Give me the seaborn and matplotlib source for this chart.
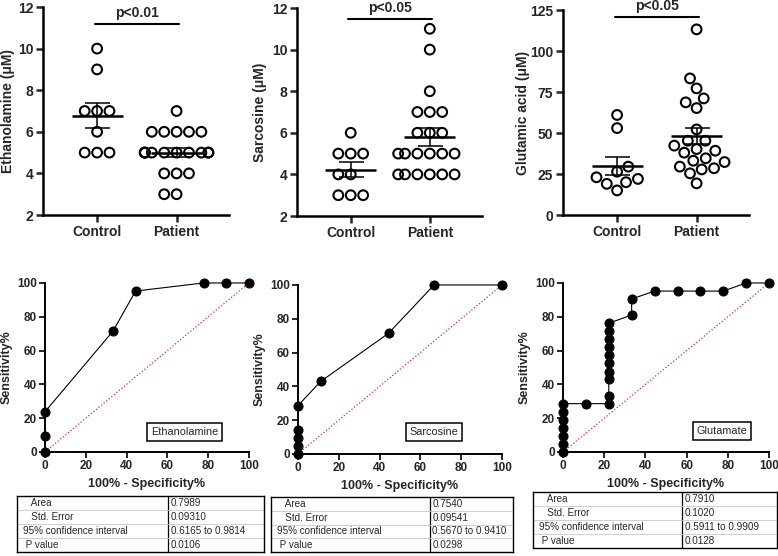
# import libraries
import numpy as np
import pandas as pd
import matplotlib
matplotlib.use('Agg')
import matplotlib.pyplot as plt
import seaborn as sns

# group names on the dot plots
groups = ['Control', 'Patient']

# ethanolamine levels (uM)
eth_control = [10, 9, 7, 7, 7, 6, 5, 5, 5]
eth_patient = [7, 6, 6, 6, 6, 6, 5, 5, 5, 5, 5, 5, 5, 5, 5, 5, 4, 4, 4, 3, 3]

# sarcosine levels (uM)
sar_control = [6, 5, 5, 5, 4, 4, 3, 3, 3]
sar_patient = [11, 10, 8, 7, 7, 7, 6, 6, 6, 5, 5, 5, 5, 5, 5, 4, 4, 4, 4, 4, 4]

# glutamic acid levels (uM)
glu_control = [61, 53, 29.5, 26.4, 23, 22, 20, 19, 15]
glu_patient = [113.2, 83.3, 77.2, 71.1, 68.7, 65.2, 52.2, 45.3, 45.3, 42.3, 40.2,
               39.2, 38.0, 34.6, 33.1, 32.3, 29.5, 28.5, 27.8, 25.4, 19.3]

# significance labels
p_labels = ['p<0.01', 'p<0.05', 'p<0.05']

# roc curves: 100% - specificity% and sensitivity%
eth_fpr = [0, 0, 0, 33.3, 44.4, 77.8, 88.9, 100]
eth_tpr = [0, 9.5, 23.8, 71.4, 95.2, 100, 100, 100]

sar_fpr = [0, 0, 0, 0, 0, 11.1, 44.4, 66.7, 100]
sar_tpr = [0, 4.8, 9.5, 14.3, 28.6, 42.9, 71.4, 100, 100]

glu_fpr = [0, 0, 0, 0, 0, 0, 0, 11.1, 22.2, 22.2, 22.2, 22.2, 22.2, 22.2, 22.2,
           22.2, 22.2, 22.2, 33.3, 33.3, 44.4, 55.6, 66.7, 77.8, 88.9, 100]
glu_tpr = [0, 4.8, 9.5, 14.3, 19.0, 23.8, 28.6, 28.6, 28.6, 33.3, 42.9, 47.6, 52.4,
           57.1, 61.9, 66.7, 71.4, 76.2, 81.0, 90.5, 95.2, 95.2, 95.2, 95.2, 100, 100]

roc_names = ['Ethanolamine', 'Sarcosine', 'Glutamate']

# roc summary tables
table_rows = ['   Area', '   Std. Error', '95% confidence interval', ' P value']
eth_table = ['0.7989', '0.09310', '0.6165 to 0.9814', '0.0106']
sar_table = ['0.7540', '0.09541', '0.5670 to 0.9410', '0.0298']
glu_table = ['0.7910', '0.1020', '0.5911 to 0.9909', '0.0128']

# style
sns.set_style("ticks")
plt.rcParams['font.family'] = ['Liberation Sans', 'DejaVu Sans']
plt.rcParams['axes.edgecolor'] = 'black'

fig = plt.figure(figsize=(7.78, 5.56), dpi=100)

# ---------- dot plots ----------
dot_sets = [(eth_control, eth_patient, 'Ethanolamine (μM)', (2, 12), np.arange(2, 13, 2), 11.18),
            (sar_control, sar_patient, 'Sarcosine (μM)', (2, 12), np.arange(2, 13, 2), 11.47),
            (glu_control, glu_patient, 'Glutamic acid (μM)', (0, 125), np.arange(0, 126, 25), 120.7)]
dot_pos = [[0.0553, 0.6133, 0.2391, 0.3741],
           [0.3817, 0.6115, 0.2378, 0.3741],
           [0.7237, 0.6133, 0.2391, 0.3687]]
label_x = [-0.15, -0.16, -0.175]

for k, (ctrl, pat, ylab, ylim, yticks, bar_y) in enumerate(dot_sets):
    ax = fig.add_axes(dot_pos[k])
    df = pd.DataFrame({'group': [groups[0]] * len(ctrl) + [groups[1]] * len(pat),
                       'value': ctrl + pat})
    sns.swarmplot(data=df, x='group', y='value', order=groups, ax=ax,
                  size=7, color='black', warn_thresh=1)
    for coll in ax.collections:
        coll.set_facecolor('none')
        coll.set_edgecolor('black')
        coll.set_linewidth(1.5)

    # mean with sem
    for i, vals in enumerate([ctrl, pat]):
        vals = np.array(vals, dtype=float)
        m = vals.mean()
        se = vals.std(ddof=1) / np.sqrt(len(vals))
        ax.hlines(m, i - 0.32, i + 0.32, color='black', lw=1.8, zorder=5)
        ax.errorbar(i, m, yerr=se, fmt='none', ecolor='black', elinewidth=1.1,
                    capsize=9, capthick=1.1, zorder=5)

    # significance bar
    ax.plot([-0.03, 1.03], [bar_y, bar_y], color='black', lw=1.5, clip_on=False)
    ax.annotate(p_labels[k], xy=(0.5, bar_y), xytext=(0, 3), textcoords='offset points',
                ha='center', va='bottom', fontsize=10, fontweight='bold')

    ax.set_xlim(-0.68, 1.66)
    ax.set_ylim(*ylim)
    ax.set_yticks(yticks)
    ax.set_xlabel('')
    ax.set_ylabel(ylab, fontsize=10, fontweight='bold')
    ax.yaxis.set_label_coords(label_x[k], 0.5)
    sns.despine(ax=ax)
    for s in ['left', 'bottom']:
        ax.spines[s].set_linewidth(1.8)
    ax.tick_params(length=5, width=1.8, labelsize=10, pad=2)
    for t in ax.get_xticklabels() + ax.get_yticklabels():
        t.set_fontweight('bold')

# ---------- roc curves ----------
roc_sets = [(eth_fpr, eth_tpr), (sar_fpr, sar_tpr), (glu_fpr, glu_tpr)]
roc_pos = [[0.0578, 0.1871, 0.2622, 0.3040],
           [0.3830, 0.1835, 0.2622, 0.3040],
           [0.7237, 0.1871, 0.2648, 0.3040]]
box_xy = [(68.6, 11.8), (66.7, 13.0), (77.0, 12.4)]

for k, (fpr, tpr) in enumerate(roc_sets):
    ax = fig.add_axes(roc_pos[k])
    ax.plot([0, 100], [0, 100], ls=':', color='#e8283a', lw=0.9)
    sns.lineplot(x=fpr, y=tpr, sort=False, estimator=None, ax=ax, color='black',
                 lw=0.8, marker='o', markersize=6.5, markeredgecolor='black')
    for ln in ax.lines:
        ln.set_clip_on(False)
    ax.text(box_xy[k][0], box_xy[k][1], roc_names[k], ha='center', va='center', fontsize=7.8,
            bbox=dict(boxstyle='square,pad=0.35', fc='white', ec='black', lw=1.1))
    ax.set_xlim(0, 100)
    ax.set_ylim(0, 100)
    ax.set_xticks(np.arange(0, 101, 20))
    ax.set_yticks(np.arange(0, 101, 20))
    ax.set_xlabel('100% - Specificity%', fontsize=9, fontweight='bold', labelpad=4)
    ax.set_ylabel('Sensitivity%', fontsize=9, fontweight='bold', labelpad=3)
    sns.despine(ax=ax)
    for s in ['left', 'bottom']:
        ax.spines[s].set_linewidth(1.4)
    ax.tick_params(length=4, width=1.4, labelsize=8.5, pad=2)
    for t in ax.get_xticklabels() + ax.get_yticklabels():
        t.set_fontweight('bold')

# ---------- tables ----------
tab_sets = [eth_table, sar_table, glu_table]
tab_pos = [[0.0219, 0.0072, 0.3175, 0.1007],
           [0.3483, 0.0072, 0.3111, 0.0989],
           [0.6851, 0.0144, 0.3136, 0.1007]]
tab_split = [0.61, 0.655, 0.61]

for k, vals in enumerate(tab_sets):
    ax = fig.add_axes(tab_pos[k])
    ax.set_xlim(0, 1)
    ax.set_ylim(len(table_rows), 0)
    ax.set_xticks([])
    ax.set_yticks([])
    for s in ax.spines.values():
        s.set_visible(True)
        s.set_linewidth(1.0)
        s.set_color('black')
    ax.axvline(tab_split[k], color='black', lw=0.9)
    ax.hlines(np.arange(1, len(table_rows)), 0, 1, color='#c8c8c8', lw=0.6)
    for r, (lab, v) in enumerate(zip(table_rows, vals)):
        ax.text(0.025, r + 0.5, lab, ha='left', va='center', fontsize=7.1)
        ax.text(tab_split[k] + 0.012, r + 0.5, v, ha='left', va='center', fontsize=7.1)

fig.savefig('out.png', dpi=100)
